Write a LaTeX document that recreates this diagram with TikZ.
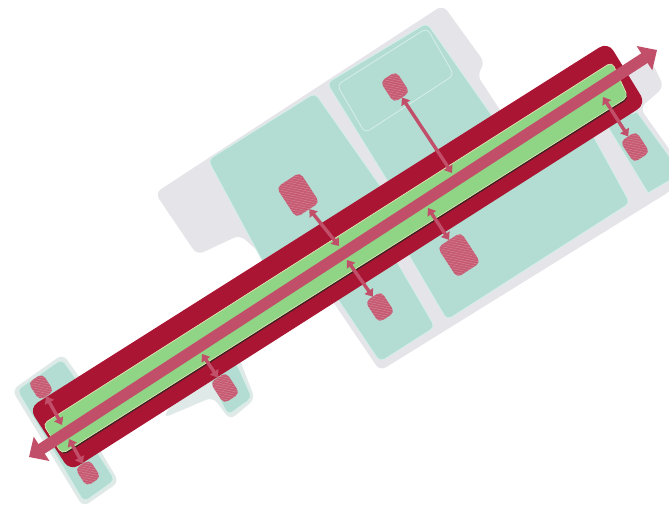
\documentclass[tikz,border=0pt]{standalone}
\usetikzlibrary{arrows.meta,patterns.meta}
\definecolor{basegray}{HTML}{E5E5E9}
\definecolor{panelteal}{HTML}{B3DDD3}
\definecolor{paleedge}{HTML}{D6EEE8}
\definecolor{softedge}{HTML}{DFE9E7}
\definecolor{bandred}{HTML}{A91532}
\definecolor{bandgreen}{HTML}{8FD585}
\definecolor{creamedge}{HTML}{E3E2B4}
\definecolor{darkedge}{HTML}{3A2222}
\definecolor{linkrose}{HTML}{C24F69}
\definecolor{blobrose}{HTML}{C65A72}
\definecolor{hatchrose}{HTML}{D58294}
\tikzset{
  basearea/.style={fill=basegray,rounded corners=7pt},
  softarea/.style={fill=softedge,rounded corners=7pt},
  panel/.style={fill=panelteal,draw=paleedge,line width=.8pt,rounded corners=5pt},
  blob/.style={rectangle,rounded corners=5pt,fill=blobrose,rotate=33,inner sep=0pt,outer sep=0pt,
    postaction={pattern={Lines[angle=-12,distance=2.4pt,line width=.5pt]},pattern color=hatchrose}},
  smallblob/.style={blob,minimum width=19pt,minimum height=25pt},
  tinyblob/.style={blob,minimum width=17pt,minimum height=21pt},
  bigblob/.style={blob,minimum width=28pt,minimum height=36pt},
  link/.style={draw=linkrose,line width=3.4pt,{Triangle[length=7pt,width=10pt]}-{Triangle[length=7pt,width=10pt]}},
  mainline/.style={draw=linkrose,line width=11.5pt,{Triangle[length=15pt,width=28pt]}-{Triangle[length=15pt,width=28pt]}}
}
\begin{document}
\begin{tikzpicture}[x=1pt,y=-1pt]
\useasboundingbox (0,0) rectangle (669,511);
% base areas
\fill[basearea] (155,193) -- (443,5) -- (485,63) -- (477,75) -- (510,125) -- (610,70) -- (652,62) -- (664,87) -- (640,108) -- (672,153) -- (672,190) -- (380,371) -- (325,290) -- (270,262) -- (240,235) -- (197,255) -- cycle;
\fill[softarea] (163,418) -- (213,397) -- (230,420) -- (255,399) -- (238,355) -- (190,375) -- cycle;
\fill[softarea] (12,390) -- (63,354) -- (85,385) -- (100,450) -- (119,482) -- (83,507) -- cycle;
% panels
\fill[panel] (208,160) -- (315,93) -- (390,200) -- (270,275) -- cycle;
\fill[panel] (327,83) -- (427,23) -- (495,120) -- (390,185) -- cycle;
\draw[paleedge,line width=.8pt,rounded corners=5pt] (337,85) -- (427,28) -- (454,75) -- (365,133) -- cycle;
\fill[panel] (590,130) -- (630,203) -- (447,320) -- (400,240) -- cycle;
\fill[panel] (390,250) -- (435,327) -- (380,362) -- (335,295) -- cycle;
\fill[panel,sharp corners] (605,122) -- (637,112) -- (672,160) -- (672,179) -- (648,193) -- cycle;
\fill[panel] (205,370) -- (228,415) -- (252,398) -- (236,362) -- cycle;
\fill[panel] (17,390) -- (62,359) -- (85,392) -- (97,452) -- (115,480) -- (84,502) -- cycle;
% band
\fill[bandred,rounded corners=10pt] (608,42) -- (646,104) -- (70,471) -- (29,408) -- cycle;
\fill[darkedge,rounded corners=5pt] (612,63.5) -- (629,98.5) -- (63,455.5) -- (44,424.5) -- cycle;
\filldraw[fill=bandgreen,draw=creamedge,line width=.7pt,rounded corners=5pt] (612,62) -- (628,97) -- (62,454) -- (43,424) -- cycle;
% blobs
\node[smallblob] (b1) at (395,87) {};
\node[bigblob] (b2) at (298,195) {};
\node[bigblob] (b3) at (459,255) {};
\node[smallblob] (b4) at (380,307) {};
\node[smallblob] (b5) at (635,147) {};
\node[smallblob] (b6) at (225,388) {};
\node[tinyblob] (b7) at (41,387) {};
\node[tinyblob] (b8) at (88,473) {};
% connector ends on the spine
\coordinate (s1) at (452,173);
\coordinate (s2) at (339,246);
\coordinate (s3) at (428,208);
\coordinate (s4) at (347,260);
\coordinate (s5) at (603,97);
\coordinate (s6) at (202,354);
\coordinate (s7) at (62,425);
\coordinate (s8) at (69,439);
\coordinate (mainW) at (29,457);
\coordinate (mainE) at (657,50);
% spine
\draw[mainline] (mainW) -- (mainE);
% connectors
\draw[link] (b1) -- (s1);
\draw[link] (b2) -- (s2);
\draw[link] (b3) -- (s3);
\draw[link] (b4) -- (s4);
\draw[link] (b5) -- (s5);
\draw[link] (b6) -- (s6);
\draw[link] (b7) -- (s7);
\draw[link] (b8) -- (s8);
\end{tikzpicture}
\end{document}
